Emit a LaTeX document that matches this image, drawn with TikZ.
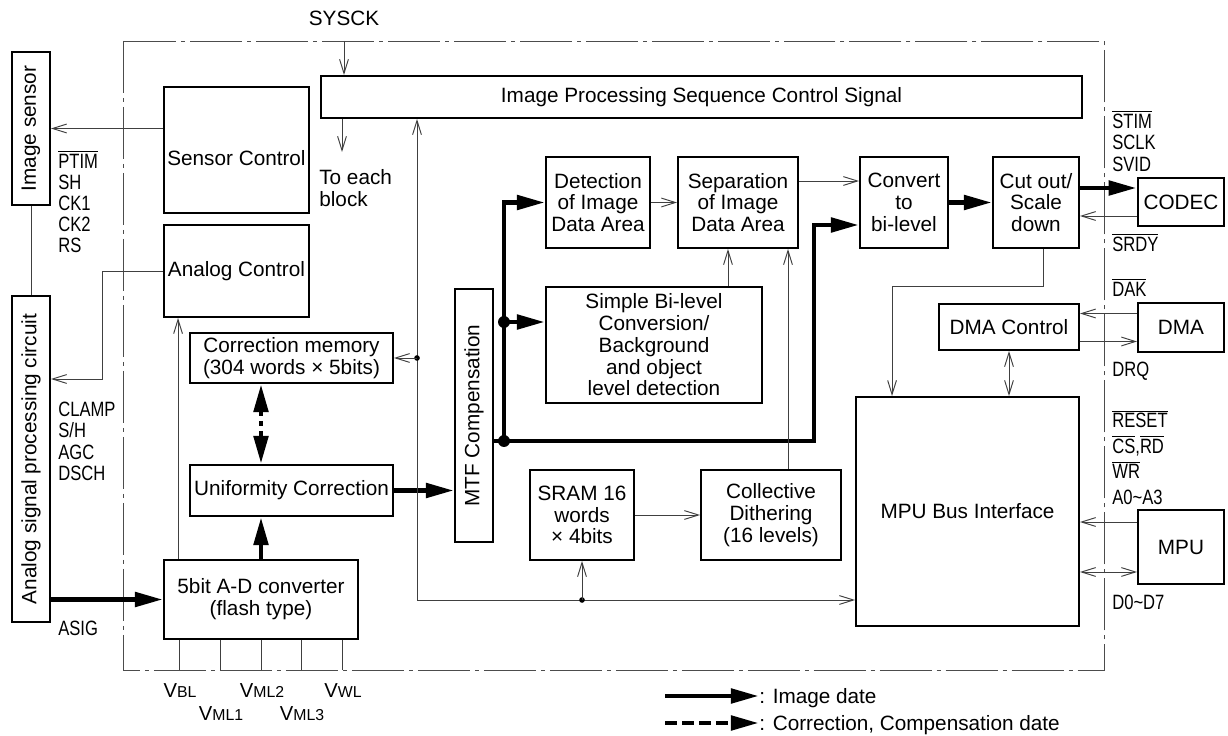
\documentclass[tikz,border=0pt]{standalone}
\usepackage{fontspec}
\setmainfont{Liberation Sans}
\newfontfamily\pinfont[FakeStretch=0.8]{Liberation Sans}
\usetikzlibrary{arrows.meta}

\newcommand{\barsig}[1]{$\overline{\hbox{#1}}$}

\begin{document}
\begin{tikzpicture}[
    x=0.02cm, y=-0.02cm,
    font=\fontsize{11.8}{12.4}\selectfont,
    block/.style={rectangle, draw=black, line width=1.1pt, align=center, inner sep=1pt},
    vblock/.style={block, rotate=90},
    sig/.style={draw=black!75, line width=0.55pt, -{Straight Barb[length=8pt,width=5pt]}},
    sigboth/.style={draw=black!75, line width=0.55pt, {Straight Barb[length=8pt,width=5pt]}-{Straight Barb[length=8pt,width=5pt]}},
    wire/.style={draw=black!75, line width=0.55pt},
    img/.style={line width=2.8pt, -{Triangle[length=16pt,width=8pt]}},
    imgwire/.style={line width=2.8pt},
    cmp/.style={line width=2.8pt, dash pattern=on 0.24cm off 0.1cm, -{Triangle[length=16pt,width=8pt]}},
    pin/.style={font=\pinfont\fontsize{11.8}{12.2}\selectfont, anchor=west, inner sep=0pt, text height=8.5pt, text depth=0pt},
    vref/.style={inner sep=0pt, text height=8pt, text depth=0pt},
    frame/.style={draw=black!70, line width=0.55pt, dash pattern=on 1.04cm off 0.1cm on 0.08cm off 0.1cm}
]
\useasboundingbox (0,0) rectangle (1228,736);

% chip outline
\draw[frame] (123,41) rectangle (1104,670);

% outside parts
\node[vblock, minimum width=3.06cm, minimum height=0.76cm] (isens) at (31,128.5) {Image sensor};
\node[vblock, minimum width=6.52cm, minimum height=0.76cm] (asp) at (31,459) {Analog signal processing circuit};
\node[block, minimum width=1.72cm, minimum height=0.96cm, line width=1.4pt] (codec) at (1181,202) {CODEC};
\node[block, minimum width=1.72cm, minimum height=0.98cm] (dma) at (1181,327.5) {DMA};
\node[block, minimum width=1.72cm, minimum height=1.48cm] (mpu) at (1181,547) {MPU};

% inside blocks
\node[block, minimum width=15.22cm, minimum height=0.84cm] (ipsc) at (701.5,97) {Image Processing Sequence Control Signal};
\node[block, minimum width=2.9cm, minimum height=2.52cm, text height=0.62cm, text depth=0pt] (senc) at (236.5,150) {Sensor Control};
\node[block, minimum width=2.9cm, minimum height=1.84cm] (actl) at (236.5,271) {Analog Control};
\node[block, minimum width=4.06cm, minimum height=1.0cm] (cmem) at (291.5,358) {Correction memory\\(304 words × 5bits)};
\node[block, minimum width=4.06cm, minimum height=1.02cm] (unif) at (291.5,490.5) {Uniformity Correction};
\node[block, minimum width=3.88cm, minimum height=1.58cm] (adc) at (261,599.5) {5bit A-D converter\\(flash type)};
\node[vblock, minimum width=5.06cm, minimum height=0.76cm] (mtf) at (474,415.5) {MTF Compensation};
\node[block, minimum width=2.08cm, minimum height=1.82cm] (det) at (598,202.5) {Detection\\of Image\\Data Area};
\node[block, minimum width=2.4cm, minimum height=1.82cm] (sep) at (738,202.5) {Separation\\of Image\\Data Area};
\node[block, minimum width=4.32cm, minimum height=2.32cm] (sbl) at (654,345) {Simple Bi-level\\Conversion/\\Background\\and object\\level detection};
\node[block, minimum width=2.08cm, minimum height=1.8cm] (sram) at (582,515) {SRAM 16\\words\\× 4bits};
\node[block, minimum width=2.8cm, minimum height=1.8cm] (cdit) at (771,515) {Collective\\Dithering\\(16 levels)};
\node[block, minimum width=1.76cm, minimum height=1.82cm] (conv) at (904,202.5) {Convert\\to\\bi-level};
\node[block, minimum width=1.72cm, minimum height=1.82cm] (cut) at (1036,202.5) {Cut out/\\Scale\\down};
\node[block, minimum width=2.8cm, minimum height=0.92cm] (dmac) at (1009,327) {DMA Control};
\node[block, minimum width=4.46cm, minimum height=4.58cm] (mbi) at (967.5,511.5) {MPU Bus Interface};

% clock and sequence control
\node (sysck) at (344,18) {SYSCK};
\coordinate (sysin) at (344,41);
\draw[sig] (sysin) -- (sysin |- ipsc.north);
\coordinate (teb) at (342,152);
\draw[sig] (teb |- ipsc.south) -- (teb);
\node[anchor=north west, align=left, inner sep=0pt] (teblbl) at (319,169) {To each\\block};

% sensor side
\draw[sig] (isens.south -| senc.west) -- (isens.south);
\draw[wire] (isens.west) -- (asp.east);
\coordinate (acbend) at (102,379);
\draw[sig] (actl.west) -| (acbend) -- (acbend -| asp.south);
\draw[img] (asp.south |- adc.west) -- (adc.west);
\coordinate (adcv) at ([xshift=0.3cm]adc.north west);
\draw[sig] (adcv) -- (adcv |- actl.south);
\draw[img] (adc.north) -- (adc.north |- unif.south);
\draw[cmp, {Triangle[length=16pt,width=8pt]}-{Triangle[length=16pt,width=8pt]}, dash pattern=on 0.1cm off 0.1cm] (cmem.south -| adc.north) -- (unif.north -| adc.north);
\draw[img] (unif.east) -- (unif.east -| mtf.north);

\foreach \txt [count=\i] in {\barsig{PTIM}, SH, CK1, CK2, RS}
    \node[pin] (lp\i) at (58,140+21*\i) {\txt};
\foreach \txt [count=\i] in {CLAMP, S/H, AGC, DSCH}
    \node[pin] (la\i) at (58,387.5+21.5*\i) {\txt};
\node[pin] (asig) at (58,628) {ASIG};

% reference voltages
\foreach \px/\pname/\py [count=\i] in {179/BL/690, 220/ML1/713, 261/ML2/690, 301/ML3/713, 342/WL/690} {
    \coordinate (vp\i) at (\px,670);
    \draw[wire] (vp\i |- adc.south) -- (vp\i);
    \node[vref] (vl\i) at (\px+1,\py) {{\fontsize{11.5}{12}\selectfont V}{\fontsize{9}{10}\selectfont\pname}};
}

% internal bus
\coordinate (busc) at (417,600);
\draw[sigboth] (busc -| mbi.west) -- (busc) -- (busc |- ipsc.south);
\coordinate (bj1) at (busc |- cmem.east);
\fill (bj1) circle[radius=1.6pt];
\draw[sig] (bj1) -- (cmem.east);
\coordinate (bj2) at (sram.south |- busc);
\fill (bj2) circle[radius=1.6pt];
\draw[sig] (bj2) -- (sram.south);

% image data paths
\coordinate (mj) at (504,441);
\coordinate (sj) at (504,322);
\coordinate (cb) at (814,225);
\draw[imgwire] (mj -| mtf.south) -- (mj);
\draw[img] (mj) |- (det.west);
\draw[img] (sj) -- (sj -| sbl.west);
\draw[img] (mj) -| (cb) -- (cb -| conv.west);
\fill (mj) circle[radius=3.4pt];
\fill (sj) circle[radius=3.4pt];
\draw[sig] (det.east) -- (sep.west);
\coordinate (sbo) at ([xshift=1.48cm]sbl.north);
\draw[sig] (sbo) -- (sbo |- sep.south);
\coordinate (cdo) at ([xshift=0.34cm]cdit.north);
\draw[sig] (cdo) -- (cdo |- sep.south);
\draw[sig] (sram.east) -- (cdit.west);
\coordinate (so) at ([yshift=0.43cm]sep.east);
\draw[sig] (so) -- (so -| conv.west);
\draw[img] (conv.east) -- (cut.west);

% codec, dma, mpu
\coordinate (co) at ([yshift=0.28cm]codec.west);
\draw[img] (co -| cut.east) -- (co);
\coordinate (ci) at ([yshift=-0.28cm]codec.west);
\draw[sig] (ci) -- (ci -| cut.east);
\coordinate (cq) at ([xshift=0.14cm]cut.south);
\coordinate (mbt) at ([xshift=0.74cm]mbi.north west);
\draw[sig] (cq) -- ++(0,38) -| (mbt);
\draw[sigboth] (dmac.south) -- (dmac.south |- mbi.north);
\coordinate (dk) at ([yshift=0.28cm]dma.west);
\draw[sig] (dk) -- (dk -| dmac.east);
\coordinate (dq) at ([yshift=-0.28cm]dma.west);
\draw[sig] (dq -| dmac.east) -- (dq);
\coordinate (ma) at ([yshift=0.5cm]mpu.west);
\draw[sig] (ma) -- (ma -| mbi.east);
\coordinate (md) at ([yshift=-0.5cm]mpu.west);
\draw[sigboth] (md -| mbi.east) -- (md);

\foreach \txt [count=\i] in {\barsig{STIM}, SCLK, SVID}
    \node[pin] (rs\i) at (1112,99.5+21.5*\i) {\txt};
\node[pin] (srdy) at (1112,244) {\barsig{SRDY}};
\node[pin] (dak) at (1112,289) {\barsig{DAK}};
\node[pin] (drq) at (1112,369) {DRQ};
\foreach \txt [count=\i] in {\barsig{RESET}, {\barsig{CS},\barsig{RD}}, \barsig{WR}, A0\textasciitilde A3}
    \node[pin] (rm\i) at (1112,395+25.5*\i) {\txt};
\node[pin] (dat) at (1112,602) {D0\textasciitilde D7};

% legend
\node[anchor=west, inner sep=0pt, text height=8.5pt, text depth=0pt] (lgimg) at (759,696) {: Image date};
\node[anchor=west, inner sep=0pt, text height=8.5pt, text depth=0pt] (lgcmp) at (759,723) {: Correction, Compensation date};
\coordinate (lgs1) at (665,696);
\coordinate (lgs2) at (665,723);
\draw[img] (lgs1) -- (lgimg.west);
\draw[cmp] (lgs2) -- (lgcmp.west);

\end{tikzpicture}
\end{document}
